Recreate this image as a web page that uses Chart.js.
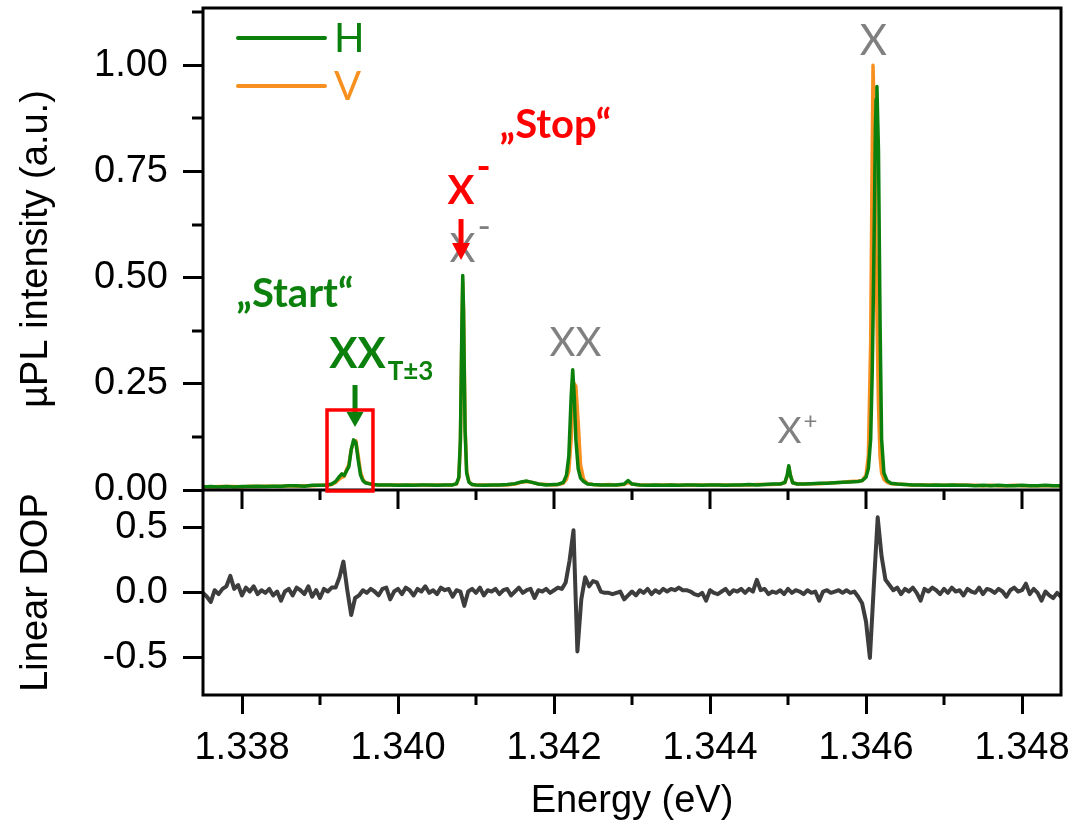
<!DOCTYPE html>
<html>
<head>
<meta charset="utf-8">
<title>µPL spectrum and linear DOP</title>
<script src="https://cdn.jsdelivr.net/npm/chart.js@4.4.0/dist/chart.umd.min.js"></script>
<style>
  html, body { margin: 0; padding: 0; background: #fff; }
  canvas { display: block; }
</style>
</head>
<body>
<canvas id="spectrum" width="1076" height="828"></canvas>
<script>
// µPL spectra for H and V detection (shared energy grid, eV)
const plEnergy = [
  1.3375, 1.3376, 1.3377, 1.3378, 1.3379, 1.3380, 1.3381, 1.3382, 1.3383, 1.3384, 1.3385, 1.3386, 1.3387, 1.3388, 1.3389, 1.3390, 1.3391,
  1.33915, 1.3392, 1.33925, 1.33928, 1.33931, 1.33934, 1.33937, 1.3394, 1.33943, 1.33946, 1.33949, 1.33952, 1.33955, 1.33958, 1.33962, 1.33968, 1.33975,
  1.3399, 1.3400, 1.3401, 1.3402, 1.3403, 1.3404, 1.3405, 1.3406,
  1.3407, 1.34075, 1.34078, 1.3408, 1.34082, 1.34083, 1.34084, 1.34086, 1.34088, 1.34091, 1.34095,
  1.3410, 1.3411, 1.3412, 1.3413, 1.3414, 1.3415, 1.34158, 1.34165, 1.34172, 1.3418, 1.3419, 1.3420,
  1.34205, 1.34212, 1.34216, 1.34219, 1.34222, 1.34224, 1.34226, 1.34228, 1.34231, 1.34234, 1.34238, 1.34243,
  1.3425, 1.3426, 1.3427, 1.3428, 1.3429, 1.34295, 1.3430, 1.3431, 1.3432, 1.3433, 1.3434, 1.3435, 1.3436, 1.3437, 1.3438, 1.3439, 1.3440, 1.3441, 1.3442, 1.3443, 1.3444, 1.3445, 1.3446, 1.3447, 1.3448,
  1.3449, 1.34496, 1.34499, 1.34501, 1.34503, 1.34506, 1.34512,
  1.3452, 1.3453, 1.3454, 1.3455, 1.3456, 1.3457, 1.3458, 1.3459,
  1.34595, 1.3460, 1.34603, 1.34606, 1.34608, 1.34609, 1.34611, 1.34612, 1.34613, 1.34614, 1.34616, 1.34618, 1.3462, 1.34623, 1.34627, 1.34632,
  1.3464, 1.3465, 1.3466, 1.3467, 1.3468, 1.3469, 1.3470, 1.3471, 1.3472, 1.3473, 1.3474, 1.3475, 1.3476, 1.3477, 1.3478, 1.3479, 1.3480, 1.3481, 1.3482, 1.3483, 1.3484, 1.3485
];
const intensityH = [
  .007, .008, .007, .008, .007, .008, .008, .009, .008, .009, .009, .010, .010, .009, .011, .011, .012,
  .014, .020, .032, .038, .034, .045, .055, .095, .118, .112, .070, .035, .022, .017, .015, .013, .012,
  .012, .011, .012, .011, .012, .012, .011, .012,
  .012, .015, .030, .120, .400, .505, .420, .140, .040, .018, .013,
  .012, .011, .012, .012, .013, .015, .019, .021, .018, .014, .012, .013,
  .013, .018, .035, .080, .220, .283, .220, .120, .050, .028, .020, .014,
  .013, .012, .012, .012, .014, .022, .014, .012, .011, .012, .011, .012, .011, .012, .012, .011, .012, .012, .011, .012, .012, .013, .012, .013, .014,
  .014, .018, .035, .057, .035, .017, .014,
  .014, .015, .016, .016, .017, .018, .019, .020,
  .022, .030, .050, .120, .280, .400, .680, .850, .920, .950, .800, .400, .120, .040, .022, .016,
  .014, .013, .012, .012, .011, .012, .011, .012, .011, .011, .010, .011, .010, .011, .010, .010, .011, .010, .010, .011, .010, .010
];
const intensityV = [
  .008, .007, .008, .008, .008, .007, .009, .008, .009, .009, .008, .010, .009, .010, .010, .011, .011,
  .013, .018, .026, .030, .032, .048, .060, .095, .112, .116, .080, .042, .025, .018, .016, .013, .012,
  .012, .012, .011, .012, .012, .011, .012, .012,
  .012, .014, .028, .110, .380, .490, .430, .150, .045, .019, .013,
  .012, .012, .011, .012, .012, .014, .018, .020, .018, .014, .013, .012,
  .013, .016, .025, .045, .120, .200, .250, .245, .160, .060, .025, .015,
  .013, .012, .013, .012, .013, .018, .014, .012, .012, .011, .012, .012, .011, .012, .011, .012, .012, .012, .012, .011, .012, .012, .013, .013, .013,
  .014, .017, .033, .054, .036, .017, .014,
  .014, .015, .015, .016, .017, .018, .020, .021,
  .022, .035, .080, .350, .800, 1.000, .850, .700, .550, .420, .200, .080, .040, .025, .018, .015,
  .014, .013, .012, .012, .012, .011, .011, .011, .012, .011, .011, .010, .011, .010, .010, .011, .010, .010, .010, .010, .010, .010
];

// linear degree of polarisation, spectrometer grid from 1.3375 eV in 0.05 meV steps
const dopStart = 1.3375;
const dopStep = 0.00005;
const dop = [
   0.00, -0.03, -0.07,  0.02, -0.01,  0.03,  0.05,  0.13,  0.03,  0.06,
  -0.02,  0.04,  0.01,  0.05, -0.01,  0.02,  0.00,  0.03, -0.02,  0.01,
  -0.06,  0.01,  0.03, -0.02,  0.04,  0.02, -0.01,  0.05, -0.03,  0.02,
  -0.04,  0.03,  0.01,  0.04,  0.04,  0.12,  0.24,  0.02, -0.17, -0.04,
  -0.02,  0.02,  0.00,  0.03,  0.01, -0.02,  0.03,  0.04, -0.05,  0.01,
   0.03, -0.01,  0.04,  0.02, -0.02,  0.03,  0.01,  0.05,  0.00,  0.02,
  -0.01,  0.04,  0.02,  0.03, -0.03,  0.02,  0.01, -0.10,  0.01,  0.03,
   0.00,  0.04, -0.02,  0.02,  0.01,  0.03, -0.01,  0.02,  0.03, -0.02,
   0.01,  0.04,  0.00,  0.02,  0.03, -0.04,  0.02,  0.01,  0.03,  0.00,
   0.02,  0.04,  0.03,  0.08,  0.25,  0.48, -0.45, -0.05,  0.12,  0.05,
   0.09,  0.08,  0.01,  0.00,  0.00, -0.01,  0.00,  0.01, -0.05, -0.02,
   0.01, -0.02,  0.02,  0.00,  0.03, -0.01,  0.02,  0.00,  0.03,  0.01,
   0.03,  0.02,  0.04,  0.02,  0.02,  0.01, -0.01, -0.02,  0.00, -0.06,
   0.02,  0.00, -0.01,  0.01,  0.03, -0.01,  0.02,  0.01,  0.03,  0.00,
   0.03,  0.01,  0.10,  0.02,  0.03, -0.01,  0.01,  0.00,  0.02, -0.01,
   0.03,  0.00,  0.02,  0.01, -0.01,  0.02,  0.00,  0.01, -0.06,  0.01,
   0.02,  0.00,  0.01,  0.02,  0.00,  0.02,  0.00,  0.01, -0.03, -0.08,
  -0.22, -0.50,  0.05,  0.58,  0.28,  0.10,  0.06,  0.02,  0.04, -0.01,
   0.03,  0.01,  0.04,  0.00, -0.06,  0.03,  0.01,  0.04,  0.02, -0.01,
   0.03,  0.00,  0.04,  0.01,  0.02, -0.02,  0.03,  0.01,  0.00,  0.04,
  -0.01,  0.03,  0.02,  0.00,  0.03,  0.01, -0.03,  0.02,  0.04,  0.01,
   0.02,  0.07, -0.01,  0.03,  0.00, -0.06,  0.01, -0.02, -0.04,  0.00,
  -0.03
];
const dopEnergy = dop.map((_, i) => dopStart + i * dopStep);

const energyTicks = [1.338, 1.340, 1.342, 1.344, 1.346, 1.348];
const energyMinorTicks = [1.339, 1.341, 1.343, 1.345, 1.347];
const intensityTicks = [0, 0.25, 0.5, 0.75, 1.0];
const intensityMinorTicks = [0.125, 0.375, 0.625, 0.875, 1.125];
const dopTicks = [-0.5, 0, 0.5];

const GREEN = '#0c800c';
const ORANGE = '#f7901e';
const DOP_GREY = '#3d3d3d';
const LABEL_GREY = '#808080';
const RED = '#ff0000';
const AXIS_FONT = { family: "'Liberation Sans', Arial, sans-serif", size: 38 };

const toPoints = (xs, ys) => xs.map((x, i) => ({ x, y: ys[i] }));

// peak labels, anchored in (energy, intensity)
const peakLabels = [
  { text: 'X', e: 1.346096, i: 1.024, size: 42 },
  { text: 'XX', e: 1.342276, i: 0.3155, size: 40 },
  { text: 'X', sup: '+', supSize: 24, rise: 13.5, e: 1.345019, i: 0.1107, size: 37 },
  { text: 'X', sup: '-', supSize: 36, rise: 23, e: 1.340827, i: 0.537, size: 40 }
];

function drawLabel(ctx, o) {
  const weight = o.weight || 400;
  ctx.fillStyle = o.color;
  ctx.textBaseline = 'alphabetic';
  ctx.textAlign = 'center';
  ctx.font = `${weight} ${o.size}px Lato`;
  ctx.fillText(o.text, o.x, o.y);
  const w = ctx.measureText(o.text).width;
  ctx.textAlign = 'left';
  if (o.sup) {
    ctx.font = `${weight} ${o.supSize}px Lato`;
    ctx.fillText(o.sup, o.x + w / 2 + 2, o.y - o.rise);
  }
  if (o.sub) {
    ctx.font = `${weight} ${o.subSize}px Lato`;
    ctx.fillText(o.sub, o.x + w / 2 + 2, o.y + o.drop);
  }
}

function drawArrow(ctx, x, yTop, yTip, color, headLen, headW) {
  ctx.fillStyle = color;
  ctx.fillRect(x - 2.5, yTop, 5, yTip - headLen - yTop + 1);
  ctx.beginPath();
  ctx.moveTo(x - headW / 2, yTip - headLen);
  ctx.lineTo(x + headW / 2, yTip - headLen);
  ctx.lineTo(x, yTip);
  ctx.closePath();
  ctx.fill();
}

// box around both panels, divider, minor ticks
const framePlugin = {
  id: 'frame',
  afterDatasetsDraw(chart) {
    const { ctx, chartArea: a, scales: { x, yPL } } = chart;
    const mid = yPL.bottom;
    ctx.save();
    ctx.strokeStyle = '#000';
    ctx.lineWidth = 3;
    ctx.strokeRect(a.left, a.top, a.right - a.left, a.bottom - a.top);
    ctx.beginPath();
    ctx.moveTo(a.left, mid);
    ctx.lineTo(a.right, mid);
    energyTicks.forEach(v => {
      const px = Math.round(x.getPixelForValue(v));
      ctx.moveTo(px, mid); ctx.lineTo(px, mid + 19);
    });
    energyMinorTicks.forEach(v => {
      const px = Math.round(x.getPixelForValue(v));
      ctx.moveTo(px, mid); ctx.lineTo(px, mid + 10);
      ctx.moveTo(px, a.bottom); ctx.lineTo(px, a.bottom + 10);
    });
    intensityMinorTicks.forEach(v => {
      const py = Math.round(yPL.getPixelForValue(v));
      ctx.moveTo(a.left, py); ctx.lineTo(a.left - 11, py);
    });
    ctx.stroke();
    ctx.restore();
  }
};

// legend, peak names, arrows and the highlighted XX_T±3 line
const annotationPlugin = {
  id: 'annotations',
  afterDatasetsDraw(chart) {
    const { ctx, chartArea: a, scales: { x, yPL } } = chart;
    const px = e => x.getPixelForValue(e);
    const py = v => yPL.getPixelForValue(v);
    ctx.save();

    chart.data.datasets.slice(0, 2).forEach((ds, k) => {
      const y = a.top + 30 + 48 * k;
      ctx.strokeStyle = ds.borderColor;
      ctx.lineWidth = 4;
      ctx.lineCap = 'round';
      ctx.beginPath();
      ctx.moveTo(a.left + 35, y);
      ctx.lineTo(a.left + 122, y);
      ctx.stroke();
      ctx.fillStyle = ds.borderColor;
      ctx.font = '400 40px Lato';
      ctx.textAlign = 'left';
      ctx.textBaseline = 'alphabetic';
      ctx.fillText(ds.label, a.left + 131, y + 14);
    });

    peakLabels.forEach(l => drawLabel(ctx, { ...l, x: px(l.e), y: py(l.i), color: LABEL_GREY }));

    drawLabel(ctx, { text: '„Stop“', x: px(1.342019), y: py(0.8289), size: 40, weight: 700, color: RED });
    drawLabel(ctx, { text: 'X', sup: '-', supSize: 38, rise: 23.5, x: px(1.340808), y: py(0.6735), size: 40, weight: 700, color: RED });
    drawArrow(ctx, px(1.340808), py(0.638), py(0.5416), RED, 17, 18);

    drawLabel(ctx, { text: '„Start“', x: px(1.338679), y: py(0.4309), size: 40, weight: 700, color: GREEN });
    drawLabel(ctx, { text: 'XX', sub: 'T±3', subSize: 26, drop: 12, x: px(1.339481), y: py(0.2873), size: 42, weight: 700, color: GREEN });
    drawArrow(ctx, px(1.339449), py(0.2472), py(0.1483), GREEN, 15, 17);

    ctx.strokeStyle = RED;
    ctx.lineWidth = 3.5;
    const x0 = px(1.33909), x1 = px(1.339679), y0 = py(0.1884), y1 = py(-0.0024);
    ctx.strokeRect(x0, y0, x1 - x0, y1 - y0);
    ctx.restore();
  }
};

// the frame is drawn by hand, so tick labels may hang past the plot edges
const noEdgePadding = s => {
  s.paddingTop = 0; s.paddingBottom = 0; s.paddingLeft = 0; s.paddingRight = 0;
};

const yTickCommon = {
  position: 'left',
  stack: 'panels',
  afterFit: s => { s.width = 203; noEdgePadding(s); },
  grid: { drawOnChartArea: false, tickLength: 20, tickWidth: 3, lineWidth: 3, tickColor: '#000', color: '#000' },
  border: { display: false }
};

new Chart(document.getElementById('spectrum'), {
  type: 'line',
  data: {
    datasets: [
      { label: 'H', data: toPoints(plEnergy, intensityH), borderColor: GREEN, borderWidth: 3.5, yAxisID: 'yPL' },
      { label: 'V', data: toPoints(plEnergy, intensityV), borderColor: ORANGE, borderWidth: 3.5, yAxisID: 'yPL' },
      { label: 'Linear DOP', data: toPoints(dopEnergy, dop), borderColor: DOP_GREY, borderWidth: 4, yAxisID: 'yDop' }
    ]
  },
  options: {
    responsive: false,
    animation: false,
    layout: { padding: { left: 0, right: 15, top: 8, bottom: 0 } },
    elements: {
      point: { radius: 0 },
      line: { tension: 0, borderJoinStyle: 'round', borderCapStyle: 'round' }
    },
    plugins: { legend: { display: false }, tooltip: { enabled: false } },
    scales: {
      x: {
        type: 'linear',
        min: 1.3375,
        max: 1.3485,
        afterBuildTicks: s => { s.ticks = energyTicks.map(v => ({ value: v })); },
        afterFit: s => { s.height = 133; noEdgePadding(s); },
        grid: { drawOnChartArea: false, tickLength: 19, tickWidth: 3, lineWidth: 3, tickColor: '#000', color: '#000' },
        border: { display: false },
        ticks: { font: AXIS_FONT, color: '#000', padding: 12, maxRotation: 0, autoSkip: false, callback: v => v.toFixed(3) },
        title: { display: true, text: 'Energy (eV)', font: AXIS_FONT, color: '#000', padding: { top: 4, bottom: 4 } }
      },
      yDop: {
        ...yTickCommon,
        stackWeight: 205,
        min: -0.785,
        max: 0.79,
        afterBuildTicks: s => { s.ticks = dopTicks.map(v => ({ value: v })); },
        ticks: { font: AXIS_FONT, color: '#000', padding: 15, callback: v => v.toFixed(1) },
        title: { display: true, text: 'Linear DOP', font: AXIS_FONT, color: '#000', padding: { top: 14, bottom: 14 } }
      },
      yPL: {
        ...yTickCommon,
        stackWeight: 482,
        min: 0,
        max: 1.135,
        afterBuildTicks: s => { s.ticks = intensityTicks.map(v => ({ value: v })); },
        ticks: { font: AXIS_FONT, color: '#000', padding: 15, callback: v => v.toFixed(2) },
        title: { display: true, text: 'µPL intensity (a.u.)', font: AXIS_FONT, color: '#000', padding: { top: 14, bottom: 14 } }
      }
    }
  },
  plugins: [framePlugin, annotationPlugin]
});
</script>
</body>
</html>
